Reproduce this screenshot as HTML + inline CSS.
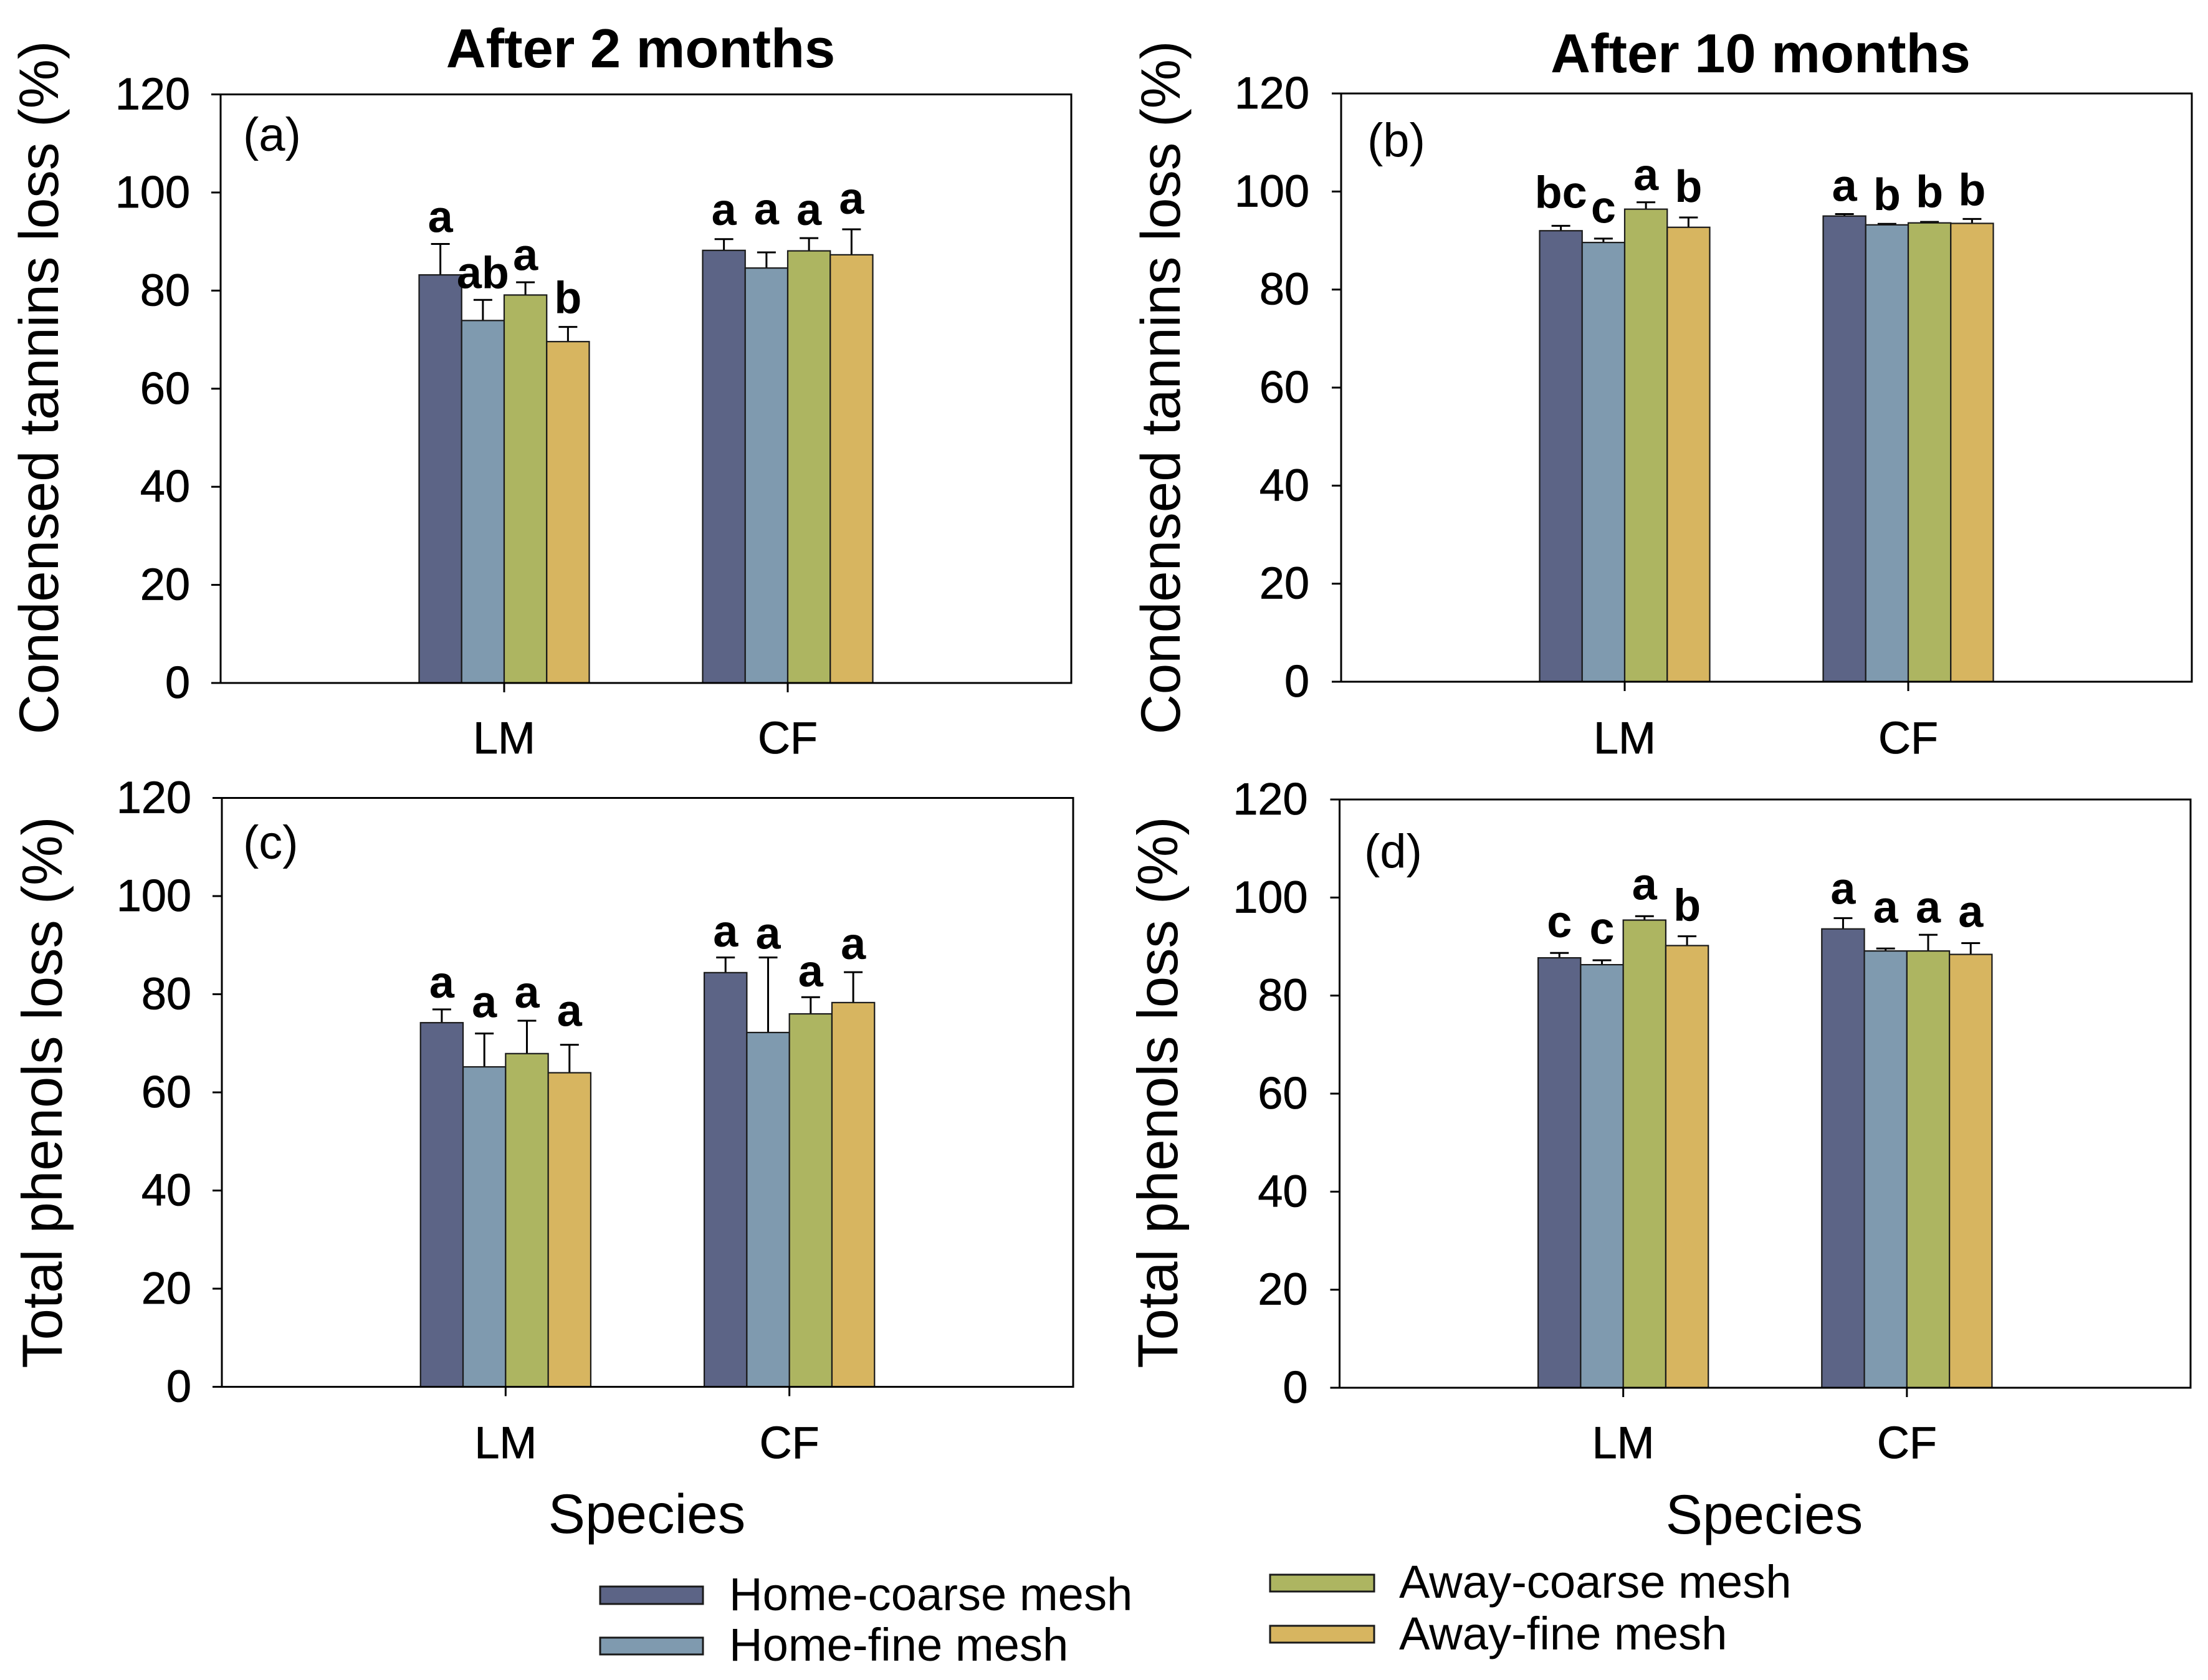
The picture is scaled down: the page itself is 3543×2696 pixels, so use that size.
<!DOCTYPE html>
<html lang="en">
<head>
<meta charset="utf-8">
<title>Condensed tannins and total phenols loss</title>
<style>
  html, body { margin: 0; padding: 0; background: #ffffff; }
  #figure { display: block; width: 3543px; height: 2696px; }
  text { font-family: "Liberation Sans", Arial, sans-serif; fill: #000000; }
  .title { font-size: 88.5px; font-weight: 700; text-anchor: middle; }
  .ytitle-tannins { font-size: 89px; text-anchor: middle; }
  .ytitle-phenols { font-size: 90.5px; text-anchor: middle; }
  .xtitle { font-size: 89px; text-anchor: middle; }
  .panel-letter { font-size: 76px; }
  .legend-label { font-size: 74.2px; }
  .tick-label { font-size: 72px; text-anchor: end; stroke: #000; stroke-width: 0.8px; }
  .cat-label { font-size: 72px; text-anchor: middle; stroke: #000; stroke-width: 0.8px; }
  .sig-label { font-size: 72px; font-weight: 700; text-anchor: middle; }
</style>
</head>
<body>
<svg id="figure" xmlns="http://www.w3.org/2000/svg" width="3543" height="2696" viewBox="0 0 3543 2696">
  <rect x="0" y="0" width="3543" height="2696" fill="#ffffff"/>

  <text class="title" x="1028" y="108">After 2 months</text>
  <text class="title" x="2825" y="116">After 10 months</text>

  <text class="ytitle-tannins" transform="translate(93 622) rotate(-90)">Condensed tannins loss (%)</text>
  <text class="ytitle-tannins" transform="translate(1893 622) rotate(-90)">Condensed tannins loss (%)</text>
  <text class="ytitle-phenols" transform="translate(99 1753) rotate(-90)">Total phenols loss (%)</text>
  <text class="ytitle-phenols" transform="translate(1889 1753) rotate(-90)">Total phenols loss (%)</text>

  <text class="panel-letter" x="390" y="242">(a)</text>
  <text class="panel-letter" x="2194" y="251">(b)</text>
  <text class="panel-letter" x="390" y="1378">(c)</text>
  <text class="panel-letter" x="2189" y="1392">(d)</text>

  <text class="xtitle" x="1038" y="2460">Species</text>
  <text class="xtitle" x="2831" y="2461">Species</text>

  <g>
    <rect x="963" y="2546" width="165" height="28" fill="#5C6486" stroke="#1a1a1a" stroke-width="3"/>
    <text class="legend-label" x="1170" y="2584">Home-coarse mesh</text>
    <rect x="963" y="2628" width="165" height="27" fill="#7F9AAF" stroke="#1a1a1a" stroke-width="3"/>
    <text class="legend-label" x="1170" y="2665">Home-fine mesh</text>
    <rect x="2038" y="2527" width="167" height="27" fill="#ADB561" stroke="#1a1a1a" stroke-width="3"/>
    <text class="legend-label" x="2245" y="2564">Away-coarse mesh</text>
    <rect x="2038" y="2609" width="167" height="27" fill="#D7B560" stroke="#1a1a1a" stroke-width="3"/>
    <text class="legend-label" x="2245" y="2647">Away-fine mesh</text>
  </g>

  <g id="panels"></g>
</svg>

<script>
// Shared categories, series and tick labels
const categories = ['LM', 'CF'];
const seriesNames = ['home-coarse', 'home-fine', 'away-coarse', 'away-fine'];
const seriesColors = ['#5C6486', '#7F9AAF', '#ADB561', '#D7B560'];
const yTicks = [0, 20, 40, 60, 80, 100, 120];

// Panel (a): condensed tannins loss after 2 months
const meansA = [83.2, 73.9, 79.1, 69.6, 88.2, 84.6, 88.1, 87.3];
const errTopsA = [89.5, 78.1, 81.7, 72.6, 90.5, 87.8, 90.7, 92.5];
const sigA = ['a', 'ab', 'a', 'b', 'a', 'a', 'a', 'a'];
const sigLiftA = [2.4, 2.4, 2.5, 2.8, 2.9, 5.7, 2.7, 3.2];

// Panel (b): condensed tannins loss after 10 months
const meansB = [92.0, 89.6, 96.4, 92.7, 95.0, 93.2, 93.6, 93.5];
const errTopsB = [93.0, 90.4, 97.8, 94.7, 95.4, 93.4, 93.8, 94.4];
const sigB = ['bc', 'c', 'a', 'b', 'a', 'b', 'b', 'b'];
const sigLiftB = [3.7, 3.2, 2.5, 3.2, 2.7, 2.8, 3.0, 2.8];

// Panel (c): total phenols loss after 2 months
const meansC = [74.2, 65.2, 67.9, 64.0, 84.4, 72.2, 76.0, 78.3];
const errTopsC = [76.9, 72.0, 74.6, 69.7, 87.5, 87.5, 79.4, 84.5];
const sigC = ['a', 'a', 'a', 'a', 'a', 'a', 'a', 'a'];
const sigLiftC = [2.4, 3.3, 2.7, 3.8, 2.2, 1.8, 2.2, 2.7];

// Panel (d): total phenols loss after 10 months
const meansD = [87.7, 86.3, 95.4, 90.2, 93.6, 89.1, 89.1, 88.4];
const errTopsD = [88.7, 87.2, 96.2, 92.1, 95.8, 89.6, 92.4, 90.7];
const sigD = ['c', 'c', 'a', 'b', 'a', 'a', 'a', 'a'];
const sigLiftD = [3.2, 3.4, 3.4, 3.2, 2.9, 5.3, 2.5, 3.3];

const SVG_NS = 'http://www.w3.org/2000/svg';
const root = document.getElementById('panels');

function make(tag, attrs, parent) {
  const el = document.createElementNS(SVG_NS, tag);
  for (const k in attrs) el.setAttribute(k, attrs[k]);
  parent.appendChild(el);
  return el;
}

function drawPanel(id, frame, means, errTops, sig, sigLift) {
  const W = frame.right - frame.left;
  const yScale = v => frame.bottom - (v / 120) * (frame.bottom - frame.top);
  const xScale = c => frame.left + W * (c + 1) / 3;
  const barW = W * 0.05;

  const g = make('g', {}, root);
  
  

  // bars, error bars, significance letters
  categories.forEach((cat, c) => {
    seriesNames.forEach((name, s) => {
      const i = c * seriesNames.length + s;
      const bx = xScale(c) + (s - 2) * barW;
      const cx = bx + barW / 2;
      const yMean = yScale(means[i]);
      const yTop = yScale(errTops[i]);

      const stem = make('line', { x1: cx, x2: cx, y1: yMean + 3, y2: yTop, stroke: '#000', 'stroke-width': 3 }, g);
      
      

      const cap = make('line', { x1: cx - 15, x2: cx + 15, y1: yTop, y2: yTop, stroke: '#000', 'stroke-width': 3 }, g);
      
      

      const bar = make('rect', { x: bx, y: yMean, width: barW, height: frame.bottom - yMean, fill: seriesColors[s], stroke: '#1a1a1a', 'stroke-width': 2.2 }, g);
      
      

      const letter = make('text', { class: 'sig-label', x: cx, y: yScale(errTops[i] + sigLift[i]) }, g);
      letter.textContent = sig[i];
      
      
    });
  });

  // frame
  const box = make('rect', { x: frame.left, y: frame.top, width: W, height: frame.bottom - frame.top, fill: 'none', stroke: '#000', 'stroke-width': 3 }, g);
  
  

  // y ticks
  yTicks.forEach(t => {
    const y = yScale(t);
    const tick = make('line', { x1: frame.left - 15, x2: frame.left, y1: y, y2: y, stroke: '#000', 'stroke-width': 3 }, g);
    
    

    const label = make('text', { class: 'tick-label', x: frame.left - frame.labelGap, y: y + 24 }, g);
    label.textContent = String(t);
    
    
  });

  // x ticks
  categories.forEach((cat, c) => {
    const x = xScale(c);
    const tick = make('line', { x1: x, x2: x, y1: frame.bottom, y2: frame.bottom + 15, stroke: '#000', 'stroke-width': 3 }, g);
    
    

    const label = make('text', { class: 'cat-label', x: x, y: frame.labelY }, g);
    label.textContent = cat;
    
    
  });
}

drawPanel('a', { left: 354, right: 1719, top: 151.5, bottom: 1096, labelY: 1209, labelGap: 49 }, meansA, errTopsA, sigA, sigLiftA);
drawPanel('b', { left: 2152, right: 3517, top: 150, bottom: 1094, labelY: 1209, labelGap: 51 }, meansB, errTopsB, sigB, sigLiftB);
drawPanel('c', { left: 356, right: 1722, top: 1280.5, bottom: 2225.5, labelY: 2340, labelGap: 49 }, meansC, errTopsC, sigC, sigLiftC);
drawPanel('d', { left: 2149.5, right: 3515, top: 1283, bottom: 2227, labelY: 2340, labelGap: 51 }, meansD, errTopsD, sigD, sigLiftD);
</script>
</body>
</html>
